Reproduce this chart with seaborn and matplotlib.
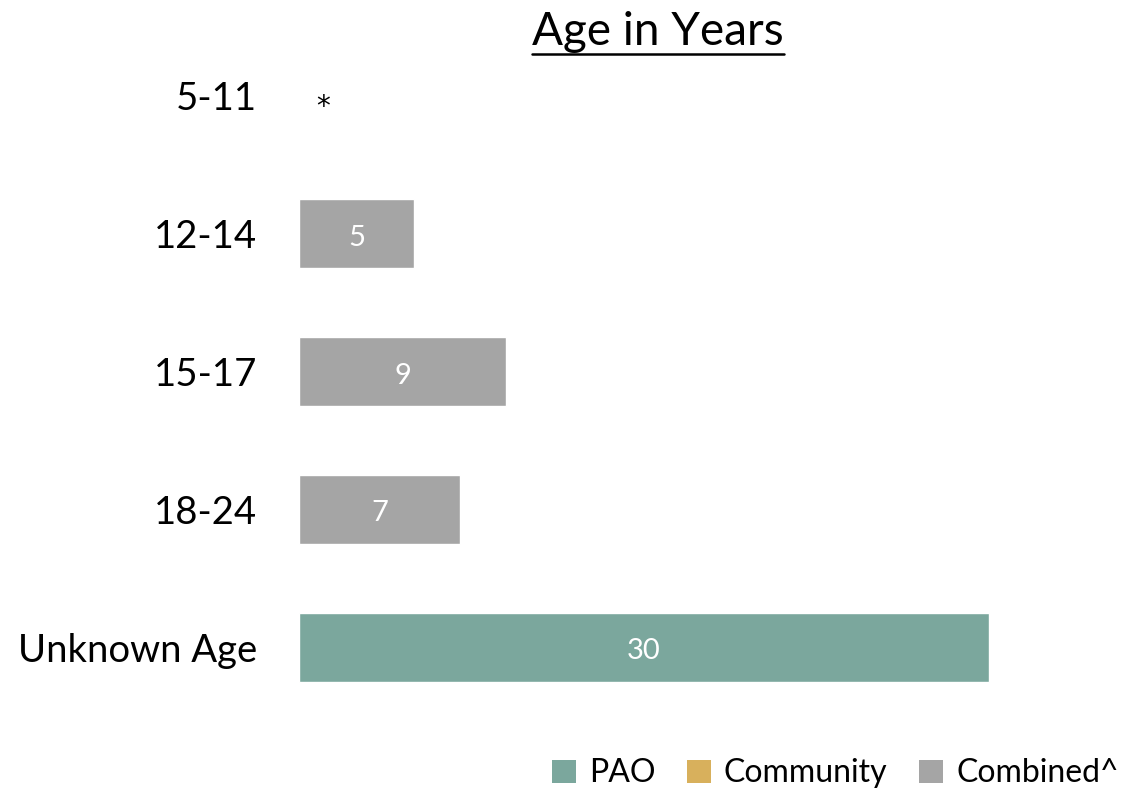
import numpy as np
import pandas as pd
import matplotlib
matplotlib.use("Agg")
import matplotlib.pyplot as plt
import seaborn as sns
from matplotlib.lines import Line2D
from matplotlib.patches import Patch

sns.set_theme(style="white")
plt.rcParams['font.family'] = ['Lato', 'DejaVu Sans']
plt.rcParams['text.color'] = 'black'

categories = ["5-11", "12-14", "15-17", "18-24", "Unknown Age"]
pao = [np.nan, np.nan, np.nan, np.nan, 30]
community = [np.nan, np.nan, np.nan, np.nan, np.nan]
combined = [np.nan, 5, 9, 7, np.nan]
suppressed = ["*", "", "", "", ""]

series_names = ["PAO", "Community", "Combined^"]
colors = {"PAO": "#7BA79D", "Community": "#D8B05C", "Combined^": "#A5A5A5"}

df = pd.DataFrame({
    "Age": categories * 3,
    "Series": [s for s in series_names for _ in categories],
    "Count": pao + community + combined,
})

fig = plt.figure(figsize=(11.44, 7.91), dpi=100)
ax = fig.add_axes([0.2614, 0.0948, 0.7238, 0.871])

sns.barplot(data=df, y="Age", x="Count", hue="Series", order=categories,
            hue_order=series_names, palette=colors, dodge=False, saturation=1,
            width=0.5, orient="h", ax=ax, legend=False)

ax.set_xlim(0, 36)
ax.set_ylim(len(categories) - 0.5, -0.5)
ax.set_xlabel("")
ax.set_ylabel("")
ax.set_xticks([])
for s in ax.spines.values():
    s.set_visible(False)
ax.tick_params(axis="y", length=0, pad=30, labelsize=27.5, labelcolor="black")

# value labels inside bars
for i, cat in enumerate(categories):
    for vals in (pao, community, combined):
        v = vals[i]
        if not np.isnan(v):
            ax.text(v / 2, i + 0.03, f"{v:g}", ha="center", va="center",
                    color="white", fontsize=21)
    if suppressed[i]:
        ax.text(1.05, i + 0.08, suppressed[i], ha="center", va="center",
                color="black", fontsize=20, family="DejaVu Sans")

# underlined title
title = fig.text(0.575, 0.96, "Age in Years", ha="center", va="center",
                 fontsize=33, color="black")
fig.canvas.draw()
bb = title.get_window_extent().transformed(fig.transFigure.inverted())
fig.add_artist(Line2D([bb.x0, bb.x1], [bb.y0 - 0.002, bb.y0 - 0.002],
                      transform=fig.transFigure, color="black", lw=1.8))

handles = [Patch(facecolor=colors[s], edgecolor="none") for s in series_names]
leg = fig.legend(handles, series_names, loc="lower right",
                 bbox_to_anchor=(1.003, -0.033), ncol=3, frameon=False,
                 fontsize=23, handlelength=0.75, handleheight=0.75,
                 handletextpad=0.4, columnspacing=1.0)
for t in leg.get_texts():
    t.set_color("black")

fig.savefig("out.png", dpi=100, facecolor="white")
